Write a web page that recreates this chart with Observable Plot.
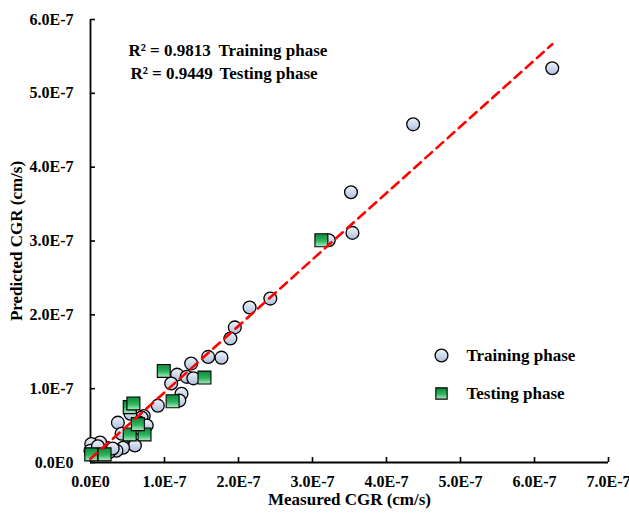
<!DOCTYPE html>
<html>
<head>
<meta charset="utf-8">
<script src="https://cdn.jsdelivr.net/npm/d3@7"></script>
<script src="https://cdn.jsdelivr.net/npm/@observablehq/plot@0.6"></script>
<style>
  html, body { margin: 0; padding: 0; background: #fff; }
  svg text { font-family: "Liberation Serif", "Times New Roman", serif; }
</style>
</head>
<body>
<div id="chart"></div>
<script>
// ---- data (values in units of 1e-7 cm/s) ----
const unit = 1e-7;
const trainMeasured = [6.24, 4.36, 3.52, 3.54, 3.22, 2.43, 2.15, 1.95, 1.89, 1.59, 1.77, 1.36,
  1.17, 1.30, 1.39, 1.09, 1.23, 1.20, 0.91, 0.72, 0.69, 0.66, 0.54, 0.76,
  0.37, 0.42, 0.58, 0.60, 0.44, 0.35, 0.22, 0.13, 0.01, 0.00, 0.25, 0.10, 0.30];
const trainPredicted = [5.34, 4.58, 3.66, 3.11, 3.01, 2.22, 2.10, 1.83, 1.68, 1.43, 1.42, 1.34,
  1.19, 1.16, 1.14, 1.07, 0.93, 0.84, 0.77, 0.63, 0.61, 0.54, 0.66, 0.50,
  0.54, 0.39, 0.32, 0.23, 0.20, 0.16, 0.20, 0.27, 0.25, 0.16, 0.14, 0.22, 0.19];
const testMeasured = [0.01, 0.19, 0.53, 0.73, 0.64, 0.53, 0.58, 0.99, 1.11, 1.54, 3.12];
const testPredicted = [0.11, 0.11, 0.38, 0.38, 0.52, 0.75, 0.80, 1.24, 0.83, 1.15, 3.01];
const fitSlope = 0.90;
const fitIntercept = 0.05;           // in units of 1e-7
const r2Labels = ["R² = 0.9813", "R² = 0.9449"];
const phaseNames = ["Training phase", "Testing phase"];
const xTicks = [0, 1, 2, 3, 4, 5, 6, 7];
const yTicks = [0, 1, 2, 3, 4, 5, 6];

// ---- tables built from arrays ----
const train = trainMeasured.map((m, i) => ({x: m * unit, y: trainPredicted[i] * unit}));
const test = testMeasured.map((m, i) => ({x: m * unit, y: testPredicted[i] * unit}));
const xMax = d3.max([...trainMeasured, ...testMeasured]);
const fit = [0, xMax].map(m => ({x: m * unit, y: (fitIntercept + fitSlope * m) * unit}));
const fmt = d => d.toExponential(1).replace("e+", "E").replace("e", "E");

const txt = (label, opts) => Plot.text([label], {text: d => d, textAnchor: "start", lineAnchor: "middle", fontSize: 17, fill: "black", ...opts});

const chart = Plot.plot({
  width: 629,
  height: 513,
  marginLeft: 90,
  marginRight: 21,
  marginTop: 19,
  marginBottom: 51,
  style: {fontFamily: "Liberation Serif", fontSize: "16px", fontWeight: "bold", color: "black", background: "white"},
  x: {domain: [0, 7 * unit]},
  y: {domain: [0, 6 * unit]},
  marks: [
    Plot.axisX(xTicks.map(t => t * unit), {tickSize: -5, tickPadding: 18, tickFormat: fmt, label: null, strokeWidth: 1.6, fill: "black", stroke: "black"}),
    Plot.axisY(yTicks.map(t => t * unit), {tickSize: -5, tickPadding: 22, tickFormat: fmt, label: null, strokeWidth: 1.6, fill: "black", stroke: "black"}),
    Plot.ruleY([0], {stroke: "black", strokeWidth: 1.8}),
    Plot.ruleX([0], {stroke: "black", strokeWidth: 1.8}),
    Plot.dot(train, {x: "x", y: "y", r: 6.4, fill: "url(#gCircle)", stroke: "black", strokeWidth: 1.3}),
    Plot.dot(test, {x: "x", y: "y", r: 7.3, symbol: "square", fill: "url(#gSquare)", stroke: "black", strokeWidth: 1.1}),
    Plot.line(fit, {x: "x", y: "y", stroke: "#ff0000", strokeWidth: 2.6, strokeDasharray: "9,6"}),
    // annotation
    txt(r2Labels[0], {frameAnchor: "top-left", dx: 38, dy: 31}),
    txt(r2Labels[1], {frameAnchor: "top-left", dx: 40, dy: 54}),
    txt(phaseNames[0], {frameAnchor: "top-left", dx: 128, dy: 31}),
    txt(phaseNames[1], {frameAnchor: "top-left", dx: 129, dy: 54}),
    // legend
    Plot.dot([phaseNames[0]], {frameAnchor: "top-left", dx: 351, dy: 336, r: 6.4, fill: "url(#gCircle)", stroke: "black", strokeWidth: 1.3}),
    Plot.dot([phaseNames[1]], {frameAnchor: "top-left", dx: 351, dy: 374, r: 6.4, symbol: "square", fill: "url(#gSquare)", stroke: "black", strokeWidth: 1.1}),
    txt(phaseNames[0], {frameAnchor: "top-left", dx: 376, dy: 336}),
    txt(phaseNames[1], {frameAnchor: "top-left", dx: 376, dy: 374}),
    // axis titles
    txt("Measured CGR (cm/s)", {frameAnchor: "bottom", dy: 37, textAnchor: "middle"}),
    txt("Predicted CGR (cm/s)", {frameAnchor: "left", dx: -74, rotate: -90, textAnchor: "middle"})
  ]
});

// gradients
const ns = "http://www.w3.org/2000/svg";
const defs = document.createElementNS(ns, "defs");
defs.innerHTML = `
  <linearGradient id="gCircle" x1="0" y1="0" x2="0" y2="1">
    <stop offset="0%" stop-color="#eef3fa"/>
    <stop offset="100%" stop-color="#aebfdb"/>
  </linearGradient>
  <linearGradient id="gSquare" x1="0" y1="0" x2="0" y2="1">
    <stop offset="0%" stop-color="#0d8a3c"/>
    <stop offset="55%" stop-color="#2db55d"/>
    <stop offset="100%" stop-color="#b2ecc4"/>
  </linearGradient>`;
chart.insertBefore(defs, chart.firstChild);
document.getElementById("chart").appendChild(chart);
</script>
</body>
</html>
